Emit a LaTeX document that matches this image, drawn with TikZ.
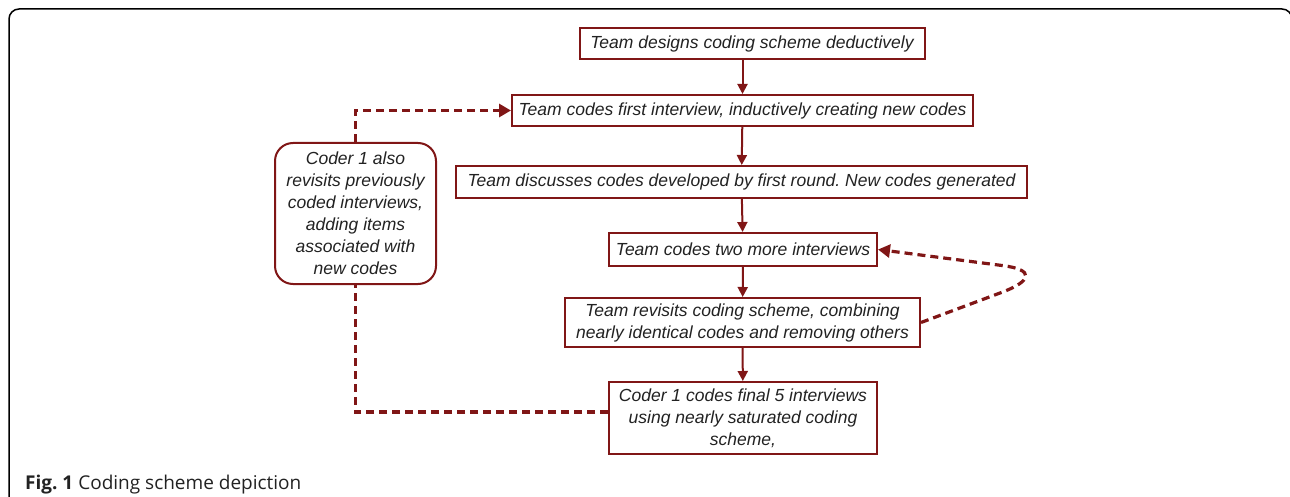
\documentclass[tikz,border=0pt]{standalone}
\usepackage{fontspec}
\setmainfont{Liberation Sans}
\newfontfamily\capfont{Open Sans}
\usetikzlibrary{arrows.meta}
\definecolor{dred}{RGB}{128,22,22}
\definecolor{txt}{RGB}{34,34,34}
\frenchspacing
\begin{document}
\begin{tikzpicture}[x=1pt,y=-1pt,
 box/.style={draw=dred, line width=2pt, fill=white, inner sep=0pt, align=center,
   font=\fontsize{17.5}{22}\selectfont\itshape, text=txt},
 flow/.style={draw=dred, line width=2pt, -{Triangle[length=10pt,width=10pt]}},
 loopline/.style={draw=dred, line width=3.2pt, dash pattern=on 8pt off 5pt},
 looptip/.style={-{Triangle[length=12pt,width=13pt]}}]
\useasboundingbox (0,0) rectangle (1290,497);
\begin{scope}
\clip (0,0) rectangle (1290,497);
\draw[line width=1.5pt, rounded corners=10pt] (9,540) |- (1292,9) -- (1292,540);
\end{scope}
\node[box, minimum width=345, minimum height=31] (n1) at (752,44) {Team designs coding scheme deductively};
\node[box, minimum width=461, minimum height=31] (n2) at (742.5,110.5) {Team codes first interview, inductively creating new codes};
\node[box, minimum width=571, minimum height=32] (n3) at (741.5,182) {Team discusses codes developed by first round. New codes generated};
\node[box, minimum width=268, minimum height=33] (n4) at (743,249.5) {Team codes two more interviews};
\node[box, minimum width=355, minimum height=49] (n5) at (742.5,322.5) {Team revisits coding scheme, combining\\nearly identical codes and removing others};
\node[box, minimum width=268, minimum height=72] (n6) at (743,418) {Coder 1 codes final 5 interviews\\using nearly saturated coding\\scheme,};
\node[box, rounded corners=18pt, minimum width=161, minimum height=141] (n7) at (355.5,213.5) {Coder 1 also\\revisits previously\\coded interviews,\\adding items\\associated with\\new codes};
\draw[flow] (n2 |- n1.south) -- (n2.north);
\draw[flow] (n2) -- (n3);
\draw[flow] (n3) -- (n4);
\draw[flow] (n4) -- (n5);
\draw[flow] (n5) -- (n6);
\coordinate (lb) at (355.5,412);
\coordinate (lt) at (355.5,110.5);
\draw[loopline] (n6.west |- lb) -- (lb) -- (n7.south);
\draw[loopline, looptip] (n7.north) -- (lt) -- (n2.west);
\coordinate (ra) at (1000,293);
\coordinate (rb) at (1002,265.5);
\draw[loopline, looptip] (n5.east) -- (ra) .. controls (1033,281) and (1035,269.5) .. (rb) -- (n4.east);
\node[anchor=base west, inner sep=0pt, font=\capfont\fontsize{19}{21}\selectfont, text=txt] (cap) at (25,489) {\textbf{Fig. 1} Coding scheme depiction};
\end{tikzpicture}
\end{document}
